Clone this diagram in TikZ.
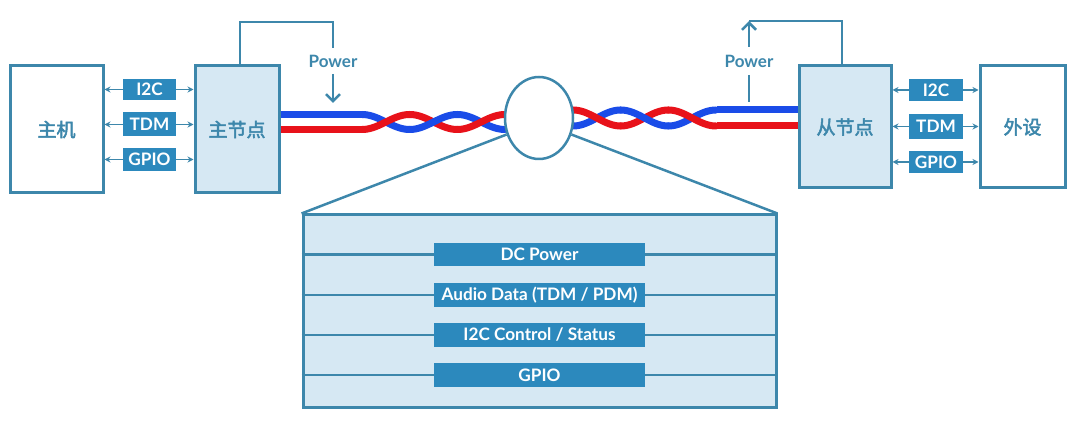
\documentclass[tikz,border=0pt]{standalone}
\usepackage{fontspec}
\setmainfont{Lato}
\newfontfamily\cjk[FakeBold=2.5]{Noto Sans CJK SC}
\usetikzlibrary{arrows.meta,shapes.geometric}
\definecolor{edge}{HTML}{3D87AB}
\definecolor{lab}{HTML}{2C89BD}
\definecolor{pale}{HTML}{D6E8F3}
\definecolor{wblue}{HTML}{1A4CE8}
\definecolor{wred}{HTML}{E8121A}
\begin{document}
\begin{tikzpicture}[x=1pt,y=-1pt,
  box/.style={draw=edge,line width=3pt,inner sep=0pt,font=\cjk\fontsize{19}{22}\selectfont,text=edge},
  paleb/.style={box,fill=pale},
  tag/.style={fill=lab,text=white,inner sep=0pt,font=\bfseries\fontsize{17.2}{20}\selectfont},
  link/.style={draw=edge,line width=1.8pt,{Stealth[length=6pt,width=6pt]}-{Stealth[length=6pt,width=6pt]}},
  pwr/.style={draw=edge,line width=2.5pt},
  pwrtext/.style={text=edge,font=\fontsize{17}{20}\selectfont\bfseries,inner sep=0pt},
  wire/.style={line width=7pt},
  panelline/.style={draw=edge,line width=2.5pt}]
\useasboundingbox (0,0) rectangle (1080,427);

% main boxes
\node[box,minimum width=93pt,minimum height=127pt] (host) at (56.5,129.5) {主机};
\node[paleb,minimum width=84pt,minimum height=127pt] (master) at (237,129.5) {主节点};
\node[paleb,minimum width=92pt,minimum height=122pt] (slave) at (845,127) {从节点};
\node[box,minimum width=85pt,minimum height=122pt] (periph) at (1022.5,127) {外设};

% left tags
\coordinate (i2cL) at (149.5,89.5);
\coordinate (tdmL) at (149.5,124.5);
\coordinate (gpioL) at (149.5,159.5);
\foreach \t in {i2cL,tdmL,gpioL}{
  \draw[link] (host.east |- \t) -- (master.west |- \t);
}
\node[tag,minimum width=53pt,minimum height=21pt] (ti2cL) at (i2cL) {I2C};
\node[tag,minimum width=53pt,minimum height=24pt] (ttdmL) at (tdmL) {TDM};
\node[tag,minimum width=53pt,minimum height=23pt] (tgpioL) at (gpioL) {GPIO};

% right tags
\coordinate (i2cR) at (936,90);
\coordinate (tdmR) at (936,126.5);
\coordinate (gpioR) at (936,162);
\foreach \t in {i2cR,tdmR,gpioR}{
  \draw[link] (slave.east |- \t) -- (periph.west |- \t);
}
\node[tag,minimum width=54pt,minimum height=22pt] (ti2cR) at (i2cR) {I2C};
\node[tag,minimum width=54pt,minimum height=25pt] (ttdmR) at (tdmR) {TDM};
\node[tag,minimum width=54pt,minimum height=22pt] (tgpioR) at (gpioR) {GPIO};

% power loops
\coordinate (pl1) at (240,22);
\coordinate (pl2) at (333,22);
\coordinate (pl3) at (333,48);
\node[pwrtext] (powL) at (333,61) {Power};
\coordinate (pl4) at (333,74);
\coordinate (pl5) at (333,103);
\draw[pwr] (master.north -| pl1) -- (pl1) -- (pl2) -- (pl3);
\draw[pwr,-{Straight Barb[length=7pt,width=14pt]}] (pl4) -- (pl5);

\coordinate (pr1) at (842,21);
\coordinate (pr2) at (749,21);
\coordinate (pr3) at (749,47);
\node[pwrtext] (powR) at (749,61) {Power};
\coordinate (pr4) at (749,75);
\coordinate (pr5) at (749,102);
\draw[pwr] (slave.north -| pr1) -- (pr1) -- (pr2);
\draw[pwr,-{Straight Barb[length=7pt,width=14pt]}] (pr3) -- (pr2);
\draw[pwr] (pr4) -- (pr5);

% straight wires
\coordinate (wl) at (362,0);
\coordinate (wr) at (717,0);
\draw[wire,wblue] (master.east |- 0,114.5) -- (wl |- 0,114.5);
\draw[wire,wred] (master.east |- 0,129.5) -- (wl |- 0,129.5);
\draw[wire,wblue] (slave.west |- 0,110) -- (wr |- 0,110);
\draw[wire,wred] (slave.west |- 0,126) -- (wr |- 0,126);

% twisted sections
\def\hp{47.67}
\pgfmathsetmacro{\fr}{180/\hp}
% left: x0=362, c=122, A=7.5; blue starts top
\foreach \k in {0,1,2}{
  \pgfmathsetmacro{\a}{362+\k*\hp}
  \pgfmathsetmacro{\b}{362+(\k+1)*\hp}
  \ifodd\k
    \draw[wire,wred,line cap=round] plot[domain=\a:\b,samples=25,smooth] (\x,{122+7.5*cos(\fr*(\x-362))});
    \draw[wire,wblue,line cap=round] plot[domain=\a:\b,samples=25,smooth] (\x,{122-7.5*cos(\fr*(\x-362))});
  \else
    \draw[wire,wblue,line cap=round] plot[domain=\a:\b,samples=25,smooth] (\x,{122-7.5*cos(\fr*(\x-362))});
    \draw[wire,wred,line cap=round] plot[domain=\a:\b,samples=25,smooth] (\x,{122+7.5*cos(\fr*(\x-362))});
  \fi
}
% right: x0=573, c=118, A=8; red starts top
\foreach \k in {0,1,2}{
  \pgfmathsetmacro{\a}{573+\k*\hp}
  \pgfmathsetmacro{\b}{573+(\k+1)*\hp}
  \ifodd\k
    \draw[wire,wred,line cap=round] plot[domain=\a:\b,samples=25,smooth] (\x,{118-8*cos(\fr*(\x-573))});
    \draw[wire,wblue,line cap=round] plot[domain=\a:\b,samples=25,smooth] (\x,{118+8*cos(\fr*(\x-573))});
  \else
    \draw[wire,wblue,line cap=round] plot[domain=\a:\b,samples=25,smooth] (\x,{118+8*cos(\fr*(\x-573))});
    \draw[wire,wred,line cap=round] plot[domain=\a:\b,samples=25,smooth] (\x,{118-8*cos(\fr*(\x-573))});
  \fi
}

% zoom ellipse
\node[ellipse,draw=edge,fill=white,line width=2.5pt,minimum width=68pt,minimum height=82pt,inner sep=0pt] (cross) at (539,118) {};

% panel
\node[draw=edge,fill=pale,line width=3pt,minimum width=473pt,minimum height=193pt,inner sep=0pt] (panel) at (539.5,311.5) {};
\draw[draw=edge,line width=2.5pt] (cross.207) -- (panel.north west);
\draw[draw=edge,line width=2.5pt] (cross.333) -- (panel.north east);

\coordinate (r1) at (539.5,254.5);
\coordinate (r2) at (539.5,295);
\coordinate (r3) at (539.5,335);
\coordinate (r4) at (539.5,375);
\foreach \r in {r1,r2,r3,r4}{
  \draw[panelline] (panel.west |- \r) -- (panel.east |- \r);
}
\node[tag,minimum width=211pt,minimum height=23pt] (dcp) at (r1) {DC Power};
\node[tag,minimum width=211pt,minimum height=24pt] (aud) at (r2) {Audio Data (TDM / PDM)};
\node[tag,minimum width=211pt,minimum height=24pt] (ctl) at (r3) {I2C Control / Status};
\node[tag,minimum width=211pt,minimum height=24pt] (gpo) at (r4) {GPIO};
\end{tikzpicture}
\end{document}
